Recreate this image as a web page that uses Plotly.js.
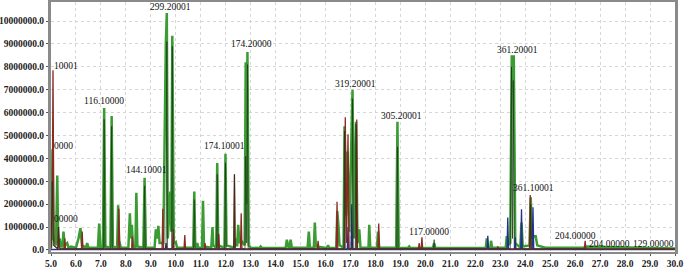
<!DOCTYPE html>
<html>
<head>
<meta charset="utf-8">
<script src="https://cdn.plot.ly/plotly-3.0.1.min.js"></script>
<style>html,body{margin:0;padding:0;background:#fff;}#chart{width:685px;height:268px;}</style>
</head>
<body>
<div id="chart"></div>
<script>
// Intensities in millions of counts; retention time in minutes
const UNIT = 1e6;

const greenX = [5.00,5.03,5.06,5.10,5.20,5.25,5.29,5.35,5.40,5.46,5.50,5.55,5.65,5.70,5.80,6.00,6.10,6.18,6.24,6.40,6.45,6.50,6.88,6.93,6.98,7.08,7.13,7.18,7.38,7.43,7.48,7.65,7.69,7.73,7.80,8.10,8.16,8.20,8.24,8.28,8.38,8.42,8.46,8.70,8.75,8.80,9.15,9.20,9.25,9.30,9.35,9.50,9.60,9.64,9.68,9.78,9.82,9.86,9.92,10.00,10.05,10.70,10.74,10.78,10.83,10.86,10.90,11.05,11.09,11.13,11.42,11.47,11.50,11.62,11.66,11.70,11.95,11.99,12.03,12.34,12.38,12.42,12.46,12.50,12.55,12.62,12.76,12.80,12.83,12.87,12.92,13.00,13.35,13.40,13.45,14.40,14.45,14.50,14.55,14.60,14.65,15.28,15.33,15.37,15.53,15.57,15.61,16.05,16.10,16.15,16.43,16.47,16.52,16.56,16.72,16.76,16.82,16.88,16.95,17.02,17.08,17.14,17.22,17.28,17.35,17.40,17.72,17.75,17.79,18.06,18.10,18.15,18.83,18.88,18.93,19.30,19.35,19.40,20.30,20.35,20.40,22.42,22.46,22.50,22.60,22.63,22.67,23.22,23.26,23.30,23.40,23.46,23.50,23.54,23.60,23.80,23.85,23.90,24.17,24.22,24.27,24.35,24.42,24.48,24.80,26.35,26.40,30.00];
const greenY = [0.10,1.00,4.40,0.50,0.20,3.25,0.30,0.50,0.15,0.15,0.80,0.20,0.30,0.10,0.15,0.10,0.50,0.95,0.20,0.10,0.30,0.10,0.10,1.15,0.10,0.10,6.20,0.15,0.10,5.85,0.15,0.10,1.95,0.40,0.10,0.10,1.60,0.50,1.10,0.20,0.10,2.50,0.15,0.10,3.15,0.10,0.10,0.90,0.50,1.05,0.30,0.30,9.00,10.35,0.50,2.55,0.80,9.35,0.30,0.35,0.10,0.10,2.55,0.15,0.10,0.30,0.10,0.10,2.15,0.15,0.10,1.00,0.20,0.10,3.80,0.20,0.10,4.20,0.20,0.10,0.50,0.20,0.20,1.10,0.30,0.40,0.20,8.20,2.00,8.65,0.20,0.10,0.08,0.15,0.08,0.08,0.45,0.15,0.10,0.45,0.10,0.10,0.80,0.10,0.10,1.20,0.15,0.08,0.20,0.08,0.10,1.70,1.00,0.20,0.10,5.40,1.50,4.30,0.80,4.00,7.00,0.50,5.60,0.30,0.90,0.10,0.10,1.10,0.10,0.10,0.80,0.10,0.10,5.60,0.10,0.08,0.15,0.08,0.08,0.30,0.08,0.08,0.50,0.10,0.10,0.40,0.10,0.10,0.60,0.20,0.30,8.50,8.20,8.50,0.30,0.10,1.20,0.15,0.20,2.30,0.50,0.60,0.60,0.20,0.10,0.10,0.15,0.06];

const blackX = [5.00,5.05,5.09,5.27,5.30,5.34,5.40,7.10,7.13,7.16,7.40,7.43,7.46,8.72,8.75,8.78,9.61,9.64,9.67,9.83,9.86,9.89,10.71,10.74,10.77,11.63,11.66,11.69,11.96,11.99,12.02,12.32,12.35,12.38,12.77,12.80,12.84,12.87,12.90,16.73,16.76,16.79,17.05,17.08,17.11,17.19,17.22,17.25,18.85,18.88,18.91,20.32,20.35,20.38,23.40,23.45,23.49,23.52,23.56,24.19,24.22,24.25,30.00];
const blackY = [0.05,3.00,0.20,0.05,1.00,0.10,0.05,0.05,5.70,0.05,0.05,5.40,0.05,0.05,2.80,0.05,0.05,9.10,0.05,0.05,8.90,0.05,0.05,2.20,0.05,0.05,3.30,0.05,0.05,3.80,0.05,0.05,3.30,0.05,0.05,4.10,0.30,8.10,0.05,0.05,5.20,0.05,0.05,6.60,0.05,0.05,5.50,0.05,0.05,4.50,0.05,0.05,0.45,0.05,0.05,8.00,0.50,7.40,0.05,0.05,2.00,0.05,0.04];

const redX = [5.00,5.05,5.08,5.12,5.27,5.30,5.33,5.52,5.55,5.58,6.22,6.25,6.28,7.69,7.72,7.75,8.23,8.26,8.29,9.45,9.48,9.51,9.87,9.90,9.93,10.33,10.36,10.39,11.14,11.17,11.20,11.69,11.72,11.75,12.32,12.35,12.38,12.59,12.62,12.65,15.67,15.70,15.73,16.43,16.46,16.49,16.76,16.79,16.84,16.90,16.94,17.22,17.25,17.28,18.10,18.13,18.16,19.72,19.75,19.78,19.83,19.86,19.89,22.87,22.90,22.93,24.17,24.20,24.23,26.37,26.40,26.43,30.00];
const redY = [0.05,2.00,7.85,0.20,0.05,1.00,0.05,0.05,0.50,0.05,0.05,0.80,0.05,0.05,1.80,0.05,0.05,0.60,0.05,0.05,1.80,0.05,0.05,0.90,0.05,0.05,0.65,0.05,0.05,0.30,0.05,0.05,0.70,0.05,0.05,3.30,0.05,0.05,1.60,0.05,0.05,0.40,0.05,0.05,2.10,0.05,0.05,5.80,0.30,5.05,0.05,0.05,5.70,0.05,0.05,1.15,0.05,0.05,0.30,0.05,0.05,0.55,0.05,0.05,0.15,0.05,0.05,2.40,0.05,0.05,0.40,0.05,0.04];

const blueX = [5.00,9.58,9.61,9.64,16.87,16.90,16.93,17.02,17.05,17.08,22.47,22.50,22.53,23.27,23.30,23.33,23.57,23.60,23.63,23.82,23.85,23.88,24.28,24.31,24.34,30.00];
const blueY = [0.02,0.02,0.30,0.02,0.02,1.00,0.02,0.02,2.00,0.02,0.02,0.62,0.02,0.02,1.42,0.02,0.02,0.55,0.02,0.02,1.78,0.02,0.02,1.86,0.02,0.02];

const labelX = [5.03,5.03,5.04,7.11,9.77,8.83,11.94,13.03,17.20,19.03,20.16,23.69,24.34,26.01,27.37,29.12];
const labelY = [8.05,4.56,1.36,6.50,10.60,3.50,4.56,9.00,7.24,5.85,0.80,8.73,2.70,0.60,0.28,0.28];
const labelText = ["10001","0000","00000","116.10000","299.20001","144.10001","174.10001","174.20000","319.20001","305.20001","117.00000","361.20001","361.10001","204.00000","204.00000","129.00000"];
const labelAnchor = ["left","left","left","center","center","center","center","center","center","center","center","center","center","center","center","center"];

const toCounts = a => a.map(v => v * UNIT);

const traces = [
  {x: greenX, y: toCounts(greenY), color: "#3a9c33", w: 2.5},
  {x: blueX, y: toCounts(blueY), color: "#22308f", w: 1.3},
  {x: redX, y: toCounts(redY), color: "#8a2a22", w: 1.3},
  {x: blackX, y: toCounts(blackY), color: "#1c3318", w: 0.7}
].map(t => ({x: t.x, y: t.y, type: "scatter", mode: "lines", line: {color: t.color, width: t.w}, hoverinfo: "skip"}));

const annotations = labelText.map((t, i) => ({
  x: labelX[i], y: labelY[i] * UNIT, xref: "x", yref: "y", text: t, showarrow: false,
  xanchor: labelAnchor[i], yanchor: "middle",
  font: {family: "Liberation Serif, serif", size: 9.5, color: "#111"}
}));

const tickFont = {family: "Liberation Serif, serif", size: 9.5, color: "#222", weight: "bold"};

const layout = {
  width: 685, height: 268,
  margin: {l: 51, r: 10, t: 2, b: 16, pad: 0},
  paper_bgcolor: "#fff", plot_bgcolor: "#fff",
  showlegend: false,
  xaxis: {
    range: [5, 30], dtick: 1, tick0: 5, tickformat: ".1f",
    showgrid: true, gridcolor: "#d6d6d6", griddash: "dot", gridwidth: 1,
    zeroline: false, showline: true, mirror: true, linecolor: "#8a8a8a", linewidth: 2,
    ticks: "outside", ticklen: 2, tickcolor: "#555",
    tickfont: tickFont
  },
  yaxis: {
    range: [-0.09e6, 10.83e6], dtick: 1e6, tick0: 0, tickformat: ".1f",
    showgrid: true, gridcolor: "#d6d6d6", griddash: "dot", gridwidth: 1,
    zeroline: false, showline: true, mirror: true, linecolor: "#8a8a8a", linewidth: 3,
    ticks: "outside", ticklen: 2, tickcolor: "#555",
    tickfont: tickFont
  },
  annotations: annotations
};

Plotly.newPlot("chart", traces, layout, {staticPlot: true, displayModeBar: false});
</script>
</body>
</html>
